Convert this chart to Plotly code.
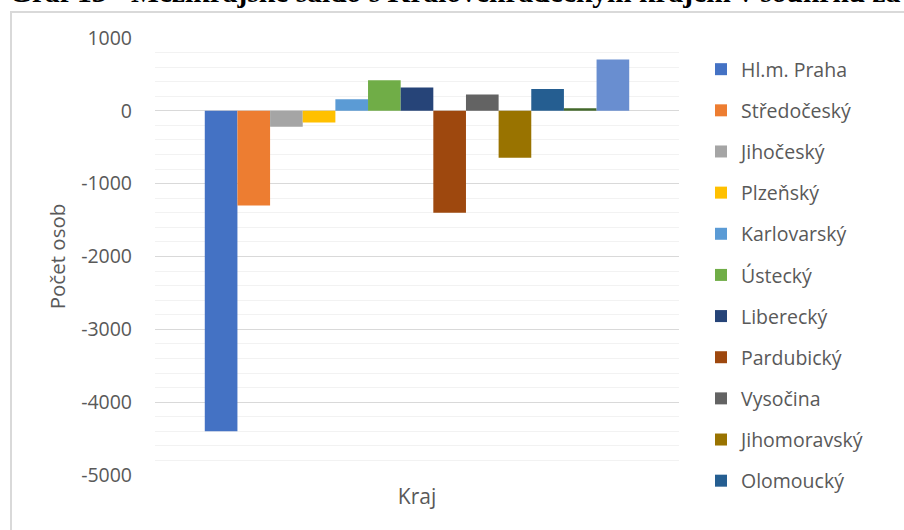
import plotly.graph_objects as go

# Migration balance of the Hradec Králové region with the other regions
regions = [
    "Hl.m. Praha", "Středočeský", "Jihočeský", "Plzeňský", "Karlovarský",
    "Ústecký", "Liberecký", "Pardubický", "Vysočina", "Jihomoravský",
    "Olomoucký", "Zlínský", "Moravskoslezský",
]
saldo = [-4400, -1300, -220, -160, 160, 420, 320, -1400, 225, -645, 300, 35, 705]
colors = [
    "#4472C4", "#ED7D31", "#A5A5A5", "#FFC000", "#5B9BD5", "#70AD47",
    "#264478", "#9E480E", "#636363", "#997300", "#255E91", "#43682B",
    "#698ED0",
]
legend_count = 11  # entries that fit in the legend box
category = ["Kraj"]

y_tick_vals = [1000, 0, -1000, -2000, -3000, -4000, -5000]
y_tick_text = ["1000", "0", "-1000", "-2000", "-3000", "-4000", "-5000"]

title_text = "Graf 13 - Mezikrajské saldo s Královéhradeckým krajem v souhrnu za"
y_title = "Počet osob"
x_title = "Kraj"

W, H = 904, 530
L, R, T, B = 155, 225, 38, 55
pw, ph = W - L - R, H - T - B

def px_x(p):
    return (p - L) / pw

def px_y(p):
    return (H - B - p) / ph

fig = go.Figure()
for i, (name, val, col) in enumerate(zip(regions, saldo, colors)):
    fig.add_trace(go.Bar(
        x=category, y=[val], name=name,
        marker=dict(color=col, line=dict(width=0)),
        legendgroup=name,
        showlegend=i < legend_count,
    ))

grey = "#595959"
font_family = "Open Sans"
fig.update_layout(
    width=W, height=H,
    margin=dict(l=L, r=R, t=T, b=B),
    paper_bgcolor="white", plot_bgcolor="white",
    barmode="group", bargap=0.19, bargroupgap=0,
    font=dict(family=font_family, color=grey),
    showlegend=True,
    legend=dict(
        xref="container", yref="container",
        x=701 / W, xanchor="left",
        y=1 - 50 / H, yanchor="top",
        font=dict(size=19.5, color=grey, family=font_family),
        tracegroupgap=12.8,
        maxheight=600,
        bgcolor="rgba(0,0,0,0)",
    ),
    xaxis=dict(
        showticklabels=False, ticks="", showgrid=False, showline=False,
        zeroline=False,
        title=dict(text=x_title, font=dict(size=21, color=grey), standoff=14),
    ),
    yaxis=dict(
        range=[-5000, 1000],
        tickmode="array", tickvals=y_tick_vals, ticktext=y_tick_text,
        showline=False, ticks="",
        showgrid=True, gridcolor="#D9D9D9", gridwidth=1,
        zeroline=True, zerolinecolor="#D9D9D9", zerolinewidth=1,
        minor=dict(tickmode="linear", tick0=0, dtick=200, showgrid=True,
                   gridcolor="#F2F2F2", gridwidth=1),
        tickfont=dict(size=19.5, color=grey),
        ticklabelstandoff=22,
        title=dict(text=y_title, font=dict(size=20.5, color=grey), standoff=9),
    ),
    shapes=[dict(
        type="rect", xref="paper", yref="paper",
        x0=px_x(11), x1=px_x(W + 10), y0=px_y(H + 10), y1=px_y(12),
        line=dict(color="#D9D9D9", width=2), fillcolor="rgba(0,0,0,0)",
        layer="below",
    )],
    annotations=[dict(
        text="<b>" + title_text + "</b>",
        xref="paper", yref="paper",
        x=px_x(7), xanchor="left",
        y=px_y(-8), yanchor="middle",
        showarrow=False,
        font=dict(family="Liberation Serif", size=29.5, color="black"),
    )],
)

fig.write_html("out.html")
